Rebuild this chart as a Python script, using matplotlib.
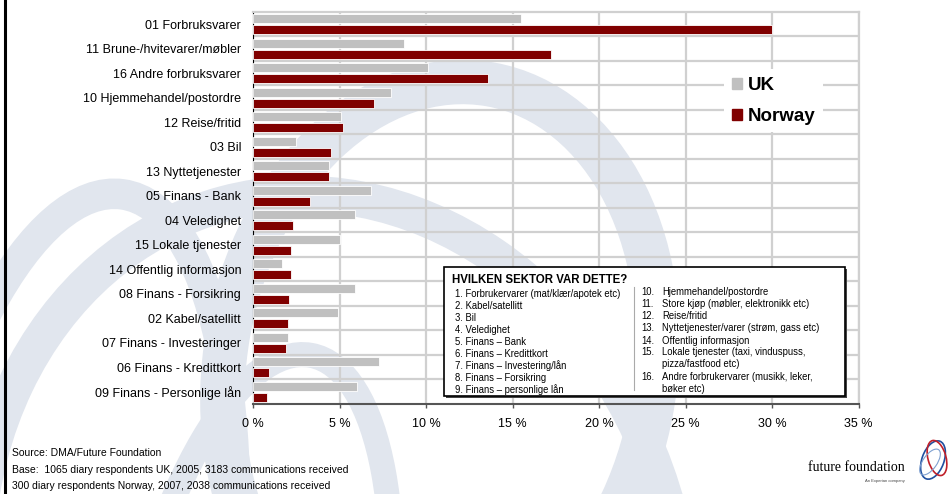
import matplotlib
matplotlib.use("Agg")
import matplotlib.pyplot as plt
from matplotlib.patches import Patch, Rectangle, Ellipse
from matplotlib.lines import Line2D

plt.rcParams['font.family'] = ['Liberation Sans', 'DejaVu Sans']

# sector shares, top to bottom
sectors = ["01 Forbruksvarer", "11 Brune-/hvitevarer/møbler", "16 Andre forbruksvarer",
           "10 Hjemmehandel/postordre", "12 Reise/fritid", "03 Bil", "13 Nyttetjenester",
           "05 Finans - Bank", "04 Veledighet", "15 Lokale tjenester",
           "14 Offentlig informasjon", "08 Finans - Forsikring", "02 Kabel/satellitt",
           "07 Finans - Investeringer", "06 Finans - Kredittkort", "09 Finans - Personlige lån"]
uk = [15.5, 8.7, 10.1, 8.0, 5.1, 2.5, 4.4, 6.8, 5.9, 5.0, 1.7, 5.9, 4.9, 2.0, 7.3, 6.0]
norway = [30.0, 17.2, 13.6, 7.0, 5.2, 4.5, 4.4, 3.3, 2.3, 2.2, 2.2, 2.1, 2.0, 1.9, 0.9, 0.8]
xticks = [0, 5, 10, 15, 20, 25, 30, 35]

key_left = ["1. Forbrukervarer (mat/klær/apotek etc)", "2. Kabel/satellitt", "3. Bil",
            "4. Veledighet", "5. Finans – Bank", "6. Finans – Kredittkort",
            "7. Finans – Investering/lån", "8. Finans – Forsikring", "9. Finans – personlige lån"]
key_right = [("10.", "Hjemmehandel/postordre"), ("11.", "Store kjøp (møbler, elektronikk etc)"),
             ("12.", "Reise/fritid"), ("13.", "Nyttetjenester/varer (strøm, gass etc)"),
             ("14.", "Offentlig informasjon"), ("15.", "Lokale tjenester (taxi, vinduspuss,"),
             ("", "pizza/fastfood etc)"), ("16.", "Andre forbrukervarer (musikk, leker,"),
             ("", "bøker etc)")]
footer = ["Source: DMA/Future Foundation",
          "Base:  1065 diary respondents UK, 2005, 3183 communications received",
          "300 diary respondents Norway, 2007, 2038 communications received"]

GREY = "#c0c0c0"
RED = "#800000"
GRID = "#d0d0d0"
WASH = "#e1e6ee"

fig = plt.figure(figsize=(9.48, 4.94), dpi=100)

# background layer in pixel units
bg = fig.add_axes([0, 0, 1, 1], zorder=0)
bg.set_xlim(0, 948)
bg.set_ylim(494, 0)
bg.axis("off")

# faint swirl behind everything
for cx, cy, w, h, ang, lw in [(440, 370, 430, 580, 10, 32),
                              (330, 600, 700, 820, -15, 26),
                              (60, 640, 330, 900, 8, 22),
                              (250, 700, 260, 700, 10, 18)]:
    bg.add_patch(Ellipse((cx, cy), w, h, angle=ang, fill=False, ec=WASH, lw=lw))

bg.add_line(Line2D([5, 5], [0, 494], color="black", lw=2.2))

ax = fig.add_axes([253 / 948, 1 - 404 / 494, (858.5 - 253) / 948, (404 - 12) / 494], zorder=1)
ax.set_facecolor("none")

pos = range(len(sectors))
ax.barh([p - 0.22 for p in pos], uk, height=0.36, color=GREY, edgecolor="white", lw=0.6,
        label="UK", zorder=3)
ax.barh([p + 0.22 for p in pos], norway, height=0.36, color=RED, edgecolor="white", lw=0.6,
        label="Norway", zorder=3)

ax.set_xlim(0, 35)
ax.set_ylim(len(sectors) - 0.5, -0.5)
ax.set_xticks(xticks)
ax.set_xticklabels([f"{t} %" for t in xticks], fontsize=9)
ax.set_yticks(list(pos))
ax.set_yticklabels(sectors, fontsize=9)
ax.set_yticks([p + 0.5 for p in pos][:-1], minor=True)
ax.tick_params(axis="y", which="both", length=0, pad=8.5)
ax.tick_params(axis="x", length=3, width=1, color="#555555", pad=7)
ax.grid(axis="x", color=GRID, lw=1.6, zorder=0)
ax.grid(axis="y", which="minor", color=GRID, lw=1.6, zorder=0)
for s in ["top", "right"]:
    ax.spines[s].set_color(GRID)
    ax.spines[s].set_linewidth(1.6)
ax.spines["left"].set_color("black")
ax.spines["bottom"].set_color("#555555")
ax.spines["bottom"].set_linewidth(1.5)

handles = [Patch(color=GREY), Patch(color=RED)]
leg = ax.legend(handles, ["UK", "Norway"], loc="upper left", bbox_to_anchor=(715 / 948, 1 - 60 / 494),
                bbox_transform=fig.transFigure, prop={"weight": "bold", "size": 13.5},
                handlelength=0.55, handleheight=0.55, handletextpad=0.3, labelspacing=0.75,
                frameon=True, fancybox=False, borderpad=0.4)
leg.get_frame().set_facecolor("white")
leg.get_frame().set_edgecolor("none")
leg.get_frame().set_alpha(1)

# sector key box
box = fig.add_axes([0, 0, 1, 1], zorder=2)
box.set_xlim(0, 948)
box.set_ylim(494, 0)
box.axis("off")
box.add_patch(Rectangle((446, 269), 401, 129, fc="#444444", ec="none"))
box.add_patch(Rectangle((444, 267), 401, 129, fc="white", ec="black", lw=1.2))
box.text(452, 280, "HVILKEN SEKTOR VAR DETTE?", fontsize=8.3, fontweight="bold", va="center")
for i, t in enumerate(key_left):
    box.text(455, 294.3 + i * 11.9, t, fontsize=6.85, va="center")
for i, (n, t) in enumerate(key_right):
    y = [292.3, 304.3, 316, 328.3, 340.7, 352.3, 364.3, 377.3, 389][i]
    box.text(641, y, n, fontsize=6.85, va="center")
    box.text(662, y, t, fontsize=6.85, va="center")
box.add_line(Line2D([634, 634], [287, 390], color="#aaaaaa", lw=0.8))

for i, t in enumerate(footer):
    box.text(12, 453 + i * 16.5, t, fontsize=7.5, va="center")

# logo
box.text(905, 467, "future foundation", family="Liberation Serif", fontsize=10, ha="right", va="center")
box.text(905, 481, "An Experian company", fontsize=3, ha="right", va="center", color="#444444")
box.add_patch(Ellipse((933, 460), 22, 40, angle=20, fill=False, ec="#1f4fa0", lw=1.2))
box.add_patch(Ellipse((937, 458), 18, 36, angle=-15, fill=False, ec="#c0202a", lw=1.2))
box.add_patch(Ellipse((930, 462), 14, 30, angle=35, fill=False, ec="#7fa0d0", lw=0.8))

fig.savefig("out.png", dpi=100)
